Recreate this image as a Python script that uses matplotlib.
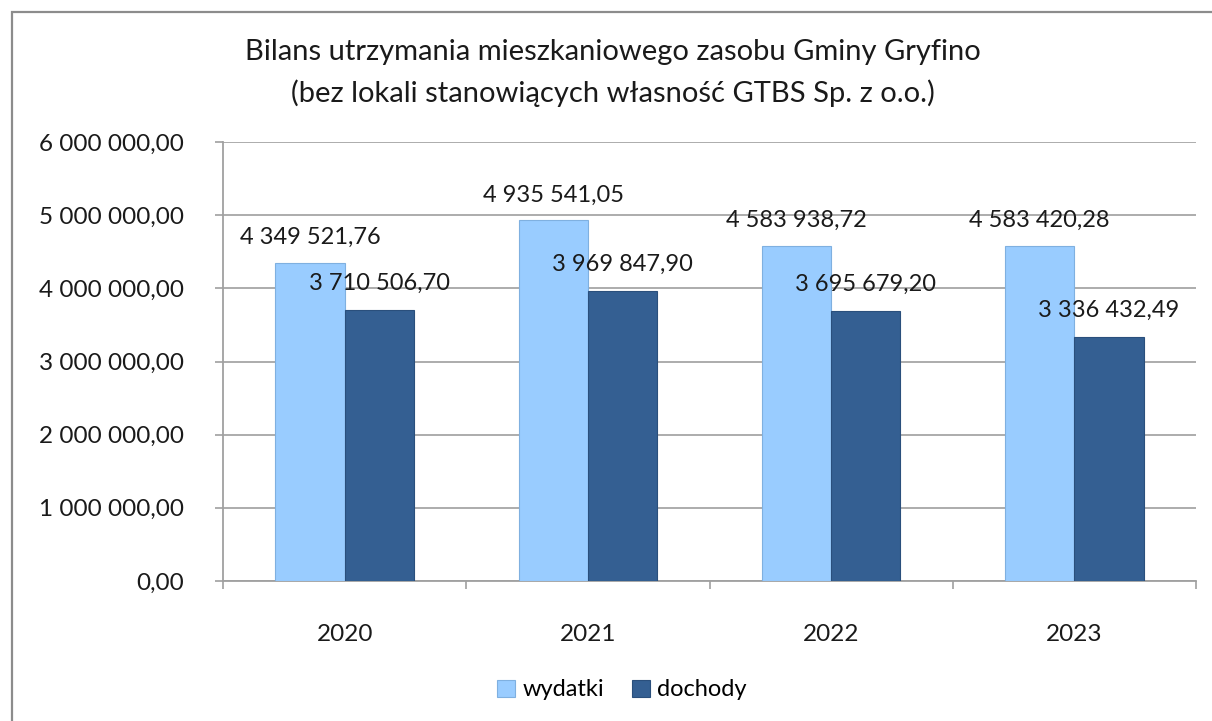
import numpy as np
import matplotlib
matplotlib.use("Agg")
import matplotlib.pyplot as plt
from matplotlib.patches import Rectangle

plt.rcParams['font.family'] = ['Lato', 'DejaVu Sans']

# Data
years = ['2020', '2021', '2022', '2023']
wydatki = [4349521.76, 4935541.05, 4583938.72, 4583420.28]
dochody = [3710506.70, 3969847.90, 3695679.20, 3336432.49]
wyd_labels = ['4 349 521,76', '4 935 541,05', '4 583 938,72', '4 583 420,28']
doch_labels = ['3 710 506,70', '3 969 847,90', '3 695 679,20', '3 336 432,49']
yticks = [0, 1000000, 2000000, 3000000, 4000000, 5000000, 6000000]
ytick_labels = ['0,00', '1 000 000,00', '2 000 000,00', '3 000 000,00',
                '4 000 000,00', '5 000 000,00', '6 000 000,00']

fig = plt.figure(figsize=(12.12, 7.21), dpi=100)
W, H = 1212, 721
ax = fig.add_axes([223 / W, 1 - 581 / H, (1196 - 223) / W, (581 - 142) / H])

# outer chart frame
fig.patches.append(Rectangle((12 / W, -0.1), 1.2, 1 - 12 / H + 0.1,
                             transform=fig.transFigure, fill=False,
                             edgecolor='#8c8c8c', linewidth=1.6))

x = np.arange(len(years))
bw = 0.285
c_wyd = '#99ccff'
c_doch = '#345f92'
ax.bar(x - bw / 2, wydatki, bw, color=c_wyd, edgecolor='#7fb0e0', linewidth=0.8,
       label='wydatki', zorder=3)
ax.bar(x + bw / 2, dochody, bw, color=c_doch, edgecolor='#2a4f7c', linewidth=0.8,
       label='dochody', zorder=3)

for i in range(len(years)):
    ax.annotate(wyd_labels[i], (x[i] - bw / 2, wydatki[i]), xytext=(0, 18),
                textcoords='offset points', ha='center', va='center',
                fontsize=17, color='#1a1a1a', zorder=4)
    ax.annotate(doch_labels[i], (x[i] + bw / 2, dochody[i]), xytext=(0, 19),
                textcoords='offset points', ha='center', va='center',
                fontsize=17, color='#1a1a1a', zorder=4)

ax.set_xlim(-0.5, len(years) - 0.5)
ax.set_ylim(0, 6000000)
ax.set_yticks(yticks)
ax.set_yticklabels(ytick_labels, fontsize=17.5, color='#1a1a1a')
ax.set_xticks(x)
ax.set_xticklabels(years, fontsize=17.5, color='#1a1a1a')
ax.set_xticks(np.arange(-0.5, len(years)), minor=True)
ax.tick_params(axis='x', which='major', length=0, pad=31)
ax.tick_params(axis='x', which='minor', length=6, color='#a0a0a0', width=1.2)
ax.tick_params(axis='y', length=6, color='#a0a0a0', width=1.2, pad=22)

ax.grid(axis='y', color='#a6a6a6', linewidth=1.3, zorder=0)
ax.set_axisbelow(True)
for s in ['top', 'right']:
    ax.spines[s].set_visible(False)
for s in ['left', 'bottom']:
    ax.spines[s].set_color('#a0a0a0')
    ax.spines[s].set_linewidth(1.3)

fig.text(0.506, 1 - 52 / H, 'Bilans utrzymania mieszkaniowego zasobu Gminy Gryfino',
         ha='center', va='center', fontsize=21, color='#1a1a1a')
fig.text(0.506, 1 - 93 / H, '(bez lokali stanowiących własność GTBS Sp. z o.o.)',
         ha='center', va='center', fontsize=21, color='#1a1a1a')

fig.legend(loc='center', bbox_to_anchor=(622 / W, 1 - 690 / H), ncol=2,
           frameon=False, fontsize=17, handlelength=0.75, handleheight=0.75,
           handletextpad=0.3, columnspacing=1.2)

fig.savefig('out.png', dpi=100, facecolor='white')
